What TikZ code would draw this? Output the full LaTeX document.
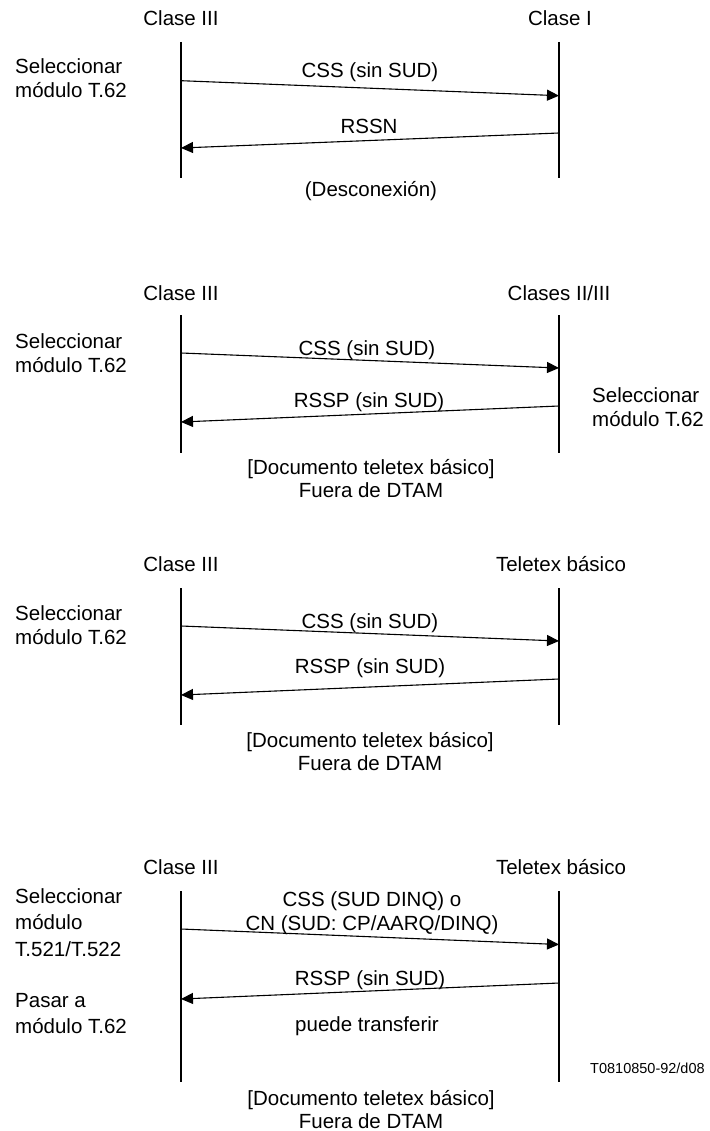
\documentclass[tikz,border=0pt]{standalone}
\usepackage{fontspec}
\setmainfont{Liberation Sans}
\usetikzlibrary{arrows.meta}
\begin{document}
\begin{tikzpicture}[x=1pt,y=-1pt,
  lbl/.style={font=\fontsize{20.5}{24}\selectfont, inner sep=0pt, anchor=base},
  lft/.style={lbl, anchor=base west},
  small/.style={font=\fontsize{14.5}{17}\selectfont, inner sep=0pt, anchor=base west},
  life/.style={line width=2.2pt},
  msg/.style={line width=1.1pt, -{Triangle[length=12pt,width=11pt]}}]
\useasboundingbox (0,0) rectangle (709,1131);

% ---------------- Section 1
\node[lbl] (h1a) at (181,26) {Clase III};
\node[lbl] (h1b) at (560,26) {Clase I};
\node[lft] (s1a) at (15,74) {Seleccionar};
\node[lft] (s1b) at (15,98) {módulo T.62};
\coordinate (p1a) at (181,42); \coordinate (p1b) at (181,178);
\coordinate (q1a) at (559,42); \coordinate (q1b) at (559,178);
\draw[life] (p1a) -- (p1b);
\draw[life] (q1a) -- (q1b);
\coordinate (m1s) at (181,80.7); \coordinate (m1e) at (559,95.7);
\coordinate (r1s) at (559,133); \coordinate (r1e) at (181,148);
\draw[msg] (m1s) -- (m1e);
\draw[msg] (r1s) -- (r1e);
\node[lbl] (c1) at (370,78) {CSS (sin SUD)};
\node[lbl] (n1) at (369,134) {RSSN};
\node[lbl] (d1) at (371,197) {(Desconexión)};

% ---------------- Section 2
\node[lbl] (h2a) at (181,300) {Clase III};
\node[lbl] (h2b) at (559,300) {Clases II/III};
\node[lft] (s2a) at (15,348) {Seleccionar};
\node[lft] (s2b) at (15,372) {módulo T.62};
\node[lft] (t2a) at (592,402) {Seleccionar};
\node[lft] (t2b) at (592,426) {módulo T.62};
\coordinate (p2a) at (181,315); \coordinate (p2b) at (181,453);
\coordinate (q2a) at (559,315); \coordinate (q2b) at (559,453);
\draw[life] (p2a) -- (p2b);
\draw[life] (q2a) -- (q2b);
\coordinate (m2s) at (181,353); \coordinate (m2e) at (559,368);
\coordinate (r2s) at (559,406); \coordinate (r2e) at (181,422);
\draw[msg] (m2s) -- (m2e);
\draw[msg] (r2s) -- (r2e);
\node[lbl] (c2) at (367,355) {CSS (sin SUD)};
\node[lbl] (n2) at (369,407) {RSSP (sin SUD)};
\node[lbl] (d2a) at (371,474) {[Documento teletex básico]};
\node[lbl] (d2b) at (371,497) {Fuera de DTAM};

% ---------------- Section 3
\node[lbl] (h3a) at (181,571) {Clase III};
\node[lbl] (h3b) at (561,571) {Teletex básico};
\node[lft] (s3a) at (15,620) {Seleccionar};
\node[lft] (s3b) at (15,644) {módulo T.62};
\coordinate (p3a) at (181,588); \coordinate (p3b) at (181,725);
\coordinate (q3a) at (559,588); \coordinate (q3b) at (559,725);
\draw[life] (p3a) -- (p3b);
\draw[life] (q3a) -- (q3b);
\coordinate (m3s) at (181,626); \coordinate (m3e) at (559,641);
\coordinate (r3s) at (559,679); \coordinate (r3e) at (181,695);
\draw[msg] (m3s) -- (m3e);
\draw[msg] (r3s) -- (r3e);
\node[lbl] (c3) at (370,628) {CSS (sin SUD)};
\node[lbl] (n3) at (370,673) {RSSP (sin SUD)};
\node[lbl] (d3a) at (370,747) {[Documento teletex básico]};
\node[lbl] (d3b) at (370,770) {Fuera de DTAM};

% ---------------- Section 4
\node[lbl] (h4a) at (181,874) {Clase III};
\node[lbl] (h4b) at (561,874) {Teletex básico};
\node[lft] (s4a) at (15,903) {Seleccionar};
\node[lft] (s4b) at (15,929) {módulo};
\node[lft] (s4c) at (15,956) {T.521/T.522};
\node[lft] (s4d) at (15,1007) {Pasar a};
\node[lft] (s4e) at (15,1033) {módulo T.62};
\coordinate (p4a) at (181,891); \coordinate (p4b) at (181,1082);
\coordinate (q4a) at (559,891); \coordinate (q4b) at (559,1082);
\draw[life] (p4a) -- (p4b);
\draw[life] (q4a) -- (q4b);
\coordinate (m4s) at (181,929); \coordinate (m4e) at (559,944.5);
\coordinate (r4s) at (559,983); \coordinate (r4e) at (181,999);
\draw[msg] (m4s) -- (m4e);
\draw[msg] (r4s) -- (r4e);
\node[lbl] (c4a) at (372,906) {CSS (SUD DINQ) o};
\node[lbl] (c4b) at (372,930) {CN (SUD: CP/AARQ/DINQ)};
\node[lbl] (n4) at (370,985) {RSSP (sin SUD)};
\node[lbl] (u4) at (367,1031) {puede transferir};
\node[small] (ref) at (590,1073) {T0810850-92/d08};
\node[lbl] (d4a) at (371,1105) {[Documento teletex básico]};
\node[lbl] (d4b) at (371,1128) {Fuera de DTAM};
\end{tikzpicture}
\end{document}
